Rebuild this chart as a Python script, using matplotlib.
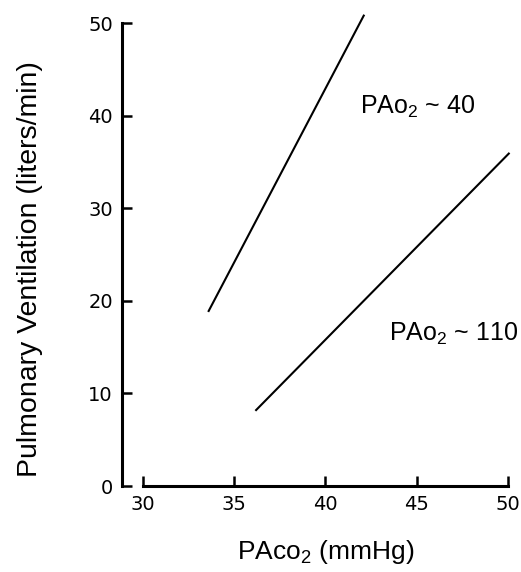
import matplotlib
matplotlib.use("Agg")
import matplotlib.pyplot as plt

plt.rcParams['font.family'] = ['Liberation Sans', 'DejaVu Sans']
plt.rcParams['mathtext.fontset'] = 'custom'
plt.rcParams['mathtext.rm'] = 'Liberation Sans'
plt.rcParams['mathtext.it'] = 'Liberation Sans'

# line endpoints (PaCO2 mmHg, ventilation L/min)
low_o2_x = [33.6, 42.1]
low_o2_y = [18.9, 50.8]
high_o2_x = [36.2, 50.05]
high_o2_y = [8.2, 35.9]

x_ticks = [30, 35, 40, 45, 50]
y_ticks = [0, 10, 20, 30, 40, 50]

fig = plt.figure(figsize=(5.21, 5.72), dpi=100)
ax = fig.add_axes([122 / 521, 86 / 572, 395 / 521, 481.5 / 572])

ax.plot(low_o2_x, low_o2_y, color='black', lw=1.5, clip_on=False)
ax.plot(high_o2_x, high_o2_y, color='black', lw=1.5, clip_on=False)

ax.text(41.9, 40.9, r'PAo$_2$ ~ 40', fontsize=18, va='center')
ax.text(43.5, 16.4, r'PAo$_2$ ~ 110', fontsize=18, va='center')

ax.set_xlim(28.85, 50.5)
ax.set_ylim(0, 52)
for s in ['top', 'right']:
    ax.spines[s].set_visible(False)
ax.spines['left'].set_bounds(0, 50)
ax.spines['bottom'].set_bounds(30, 50)
ax.spines['left'].set_linewidth(2.2)
ax.spines['bottom'].set_linewidth(2.2)

ax.set_xticks(x_ticks)
ax.set_yticks(y_ticks)
ax.tick_params(direction='in', length=7, width=1.8, pad=6.5,
               labelsize=14)
for lab in ax.get_xticklabels() + ax.get_yticklabels():
    lab.set_family('DejaVu Sans')

ax.set_xlabel(r'PAco$_2$ (mmHg)', fontsize=19)
ax.xaxis.set_label_coords(0.515, -0.108)
ax.set_ylabel('Pulmonary Ventilation (liters/min)', fontsize=20.5)
ax.yaxis.set_label_coords(-0.2, 0.451)

fig.savefig('out.png', dpi=100)
